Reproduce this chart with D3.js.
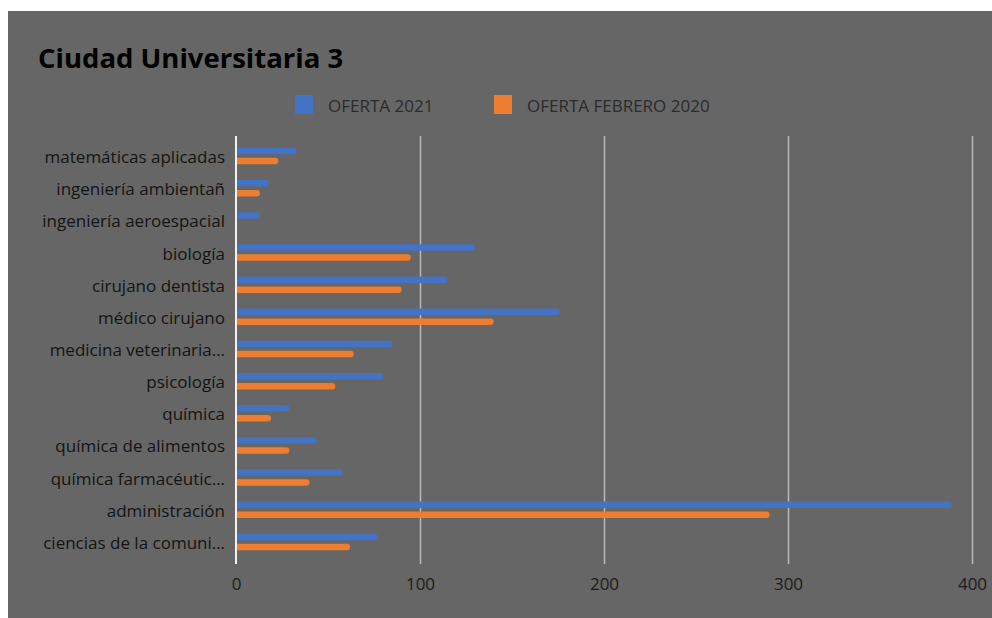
<!DOCTYPE html>
<html>
<head>
<meta charset="utf-8">
<script src="https://cdn.jsdelivr.net/npm/d3@7/dist/d3.min.js"></script>
<style>
  html, body { margin: 0; padding: 0; background: #ffffff; }
  svg { display: block; }
</style>
</head>
<body>
<svg id="chart" width="992" height="618"></svg>
<script>
// Programs listed top to bottom, as shown on the vertical axis
const categories = [
  "matemáticas aplicadas",
  "ingeniería ambientañ",
  "ingeniería aeroespacial",
  "biología",
  "cirujano dentista",
  "médico cirujano",
  "medicina veterinaria…",
  "psicología",
  "química",
  "química de alimentos",
  "química farmacéutic…",
  "administración",
  "ciencias de la comuni…"
];
const seriesNames = ["OFERTA 2021", "OFERTA FEBRERO 2020"];
const oferta2021 = [33, 18, 13, 130, 115, 176, 85, 80, 29, 44, 58, 389, 77];
const ofertaFeb2020 = [23, 13, 0, 95, 90, 140, 64, 54, 19, 29, 40, 290, 62];
const xTicks = [0, 100, 200, 300, 400];
const colors = ["#4472C4", "#ED7D31"];

const FONT = "'Open Sans', sans-serif";
const svg = d3.select("#chart");

// chart panel
svg.append("rect")
  .attr("x", 8).attr("y", 11)
  .attr("width", 984).attr("height", 607)
  .attr("fill", "#666666");

// title
svg.append("text")
  .attr("x", 38).attr("y", 68)
  .attr("font-family", FONT)
  .attr("font-weight", 700)
  .attr("font-size", 27.5)
  .attr("fill", "#000000")
  .text("Ciudad Universitaria 3");

// legend
const legendItems = [
  { name: seriesNames[0], color: colors[0], x: 295 },
  { name: seriesNames[1], color: colors[1], x: 494 }
];
const lg = svg.append("g");
legendItems.forEach(d => {
  lg.append("rect")
    .attr("x", d.x).attr("y", 95)
    .attr("width", 18).attr("height", 19)
    .attr("fill", d.color);
  lg.append("text")
    .attr("x", d.x + 33).attr("y", 112)
    .attr("font-family", FONT)
    .attr("font-size", 17)
    .attr("fill", "#2b2b2b")
    .text(d.name);
});

// scales
const plotTop = 136, plotBottom = 564;
const x = d3.scaleLinear().domain([0, 400]).range([236, 972]);
const y = d3.scaleBand().domain(categories).range([140, 558]).padding(0);

// vertical gridlines
const grid = svg.append("g")
  .attr("transform", `translate(0,${plotBottom})`)
  .call(d3.axisBottom(x).tickValues(xTicks.slice(1)).tickSize(-(plotBottom - plotTop)).tickFormat(""));
grid.select(".domain").remove();
grid.selectAll(".tick line").attr("stroke", "#b9b9b9").attr("stroke-width", 1.5);

// x tick labels
const xAxis = svg.append("g")
  .attr("transform", `translate(0,${plotBottom})`)
  .call(d3.axisBottom(x).tickValues(xTicks).tickSize(0).tickPadding(14).tickFormat(d3.format("d")));
xAxis.select(".domain").remove();
xAxis.selectAll(".tick text")
  .attr("font-family", FONT)
  .attr("font-size", 17)
  .attr("fill", "#1a1a1a");

// bars: square at the baseline, rounded at the value end
const barH = 6.5, r = barH / 2;
function barPath(x0, x1, yc) {
  const top = yc - r, bot = yc + r;
  if (x1 - x0 <= 0) return "";
  const xr = Math.max(x0, x1 - r);
  return `M${x0},${top}H${xr}A${r},${r} 0 0 1 ${xr},${bot}H${x0}Z`;
}
const rows = categories.map((c, i) => ({ c, v: [oferta2021[i], ofertaFeb2020[i]] }));
const barsG = svg.append("g");
rows.forEach(row => {
  const yc = y(row.c) + y.bandwidth() / 2;
  row.v.forEach((v, k) => {
    barsG.append("path")
      .attr("d", barPath(x(0), x(v), yc + (k === 0 ? -5 : 5)))
      .attr("fill", colors[k]);
  });
});

// vertical axis line
svg.append("line")
  .attr("x1", x(0)).attr("x2", x(0))
  .attr("y1", plotTop).attr("y2", plotBottom)
  .attr("stroke", "#f2f2f2").attr("stroke-width", 2);

// category labels
const yAxis = svg.append("g")
  .attr("transform", `translate(${x(0)},0)`)
  .call(d3.axisLeft(y).tickSize(0).tickPadding(11));
yAxis.select(".domain").remove();
yAxis.selectAll(".tick text")
  .attr("font-family", FONT)
  .attr("font-size", 17)
  .attr("fill", "#141414")
  .attr("dy", "0.41em");
</script>
</body>
</html>
